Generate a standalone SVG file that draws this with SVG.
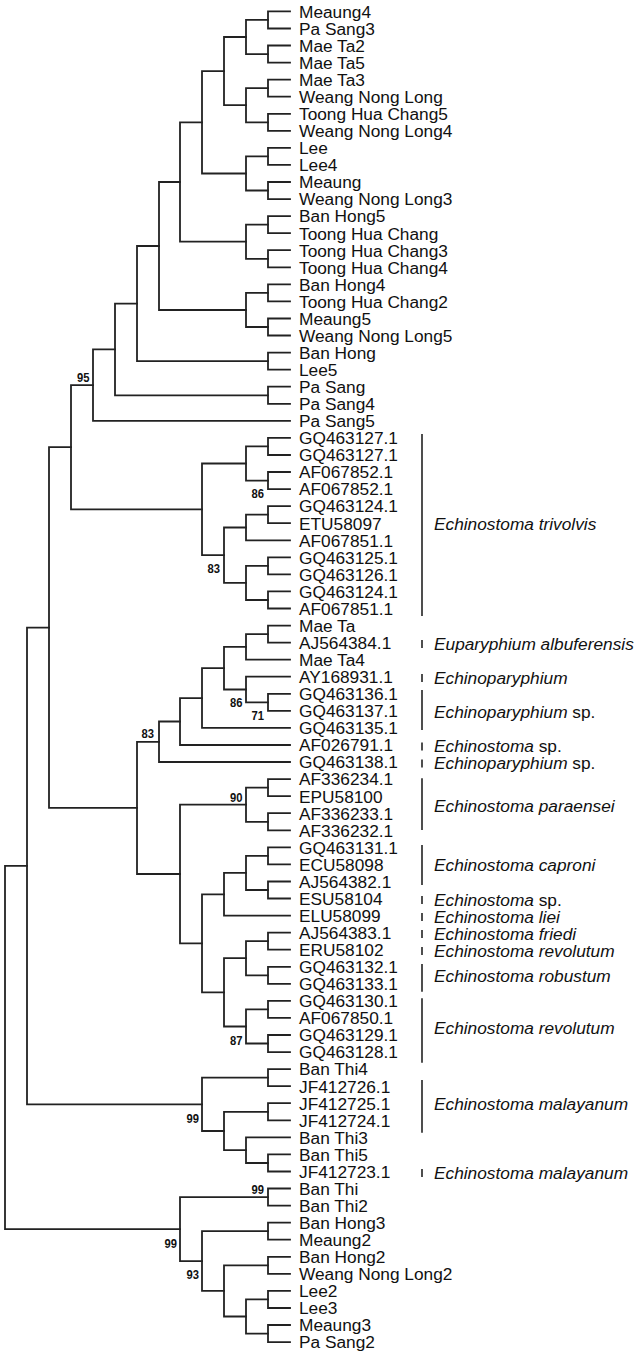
<svg xmlns="http://www.w3.org/2000/svg" width="641" height="1358" viewBox="0 0 641 1358">
<style>
.lf{font-family:"Liberation Sans",Arial,sans-serif;font-size:17.3px;fill:#111}
.sp{font-family:"Liberation Sans",Arial,sans-serif;font-size:17.3px;fill:#111}
.it{font-style:italic}
.bs{font-family:"Liberation Sans",Arial,sans-serif;font-size:12.5px;font-weight:bold;fill:#111;text-anchor:end}
.br{fill:none;stroke:#222;stroke-width:1.8;stroke-linejoin:miter;stroke-linecap:square}
.bar{stroke:#222;stroke-width:1.6}
</style>
<rect width="641" height="1358" fill="#fff"/>
<g id="connectors" class="br">
<path d="M290 11.4H268V28.5H290"/><path d="M290 45.5H268V62.6H290"/><path d="M290 79.6H268V96.7H290"/><path d="M290 113.8H268V130.8H290"/>
<path d="M290 147.9H268V164.9H290"/><path d="M290 182H268V199.1H290"/><path d="M290 216.1H268V233.2H290"/><path d="M290 250.2H268V267.3H290"/>
<path d="M290 284.4H268V301.4H290"/><path d="M290 318.5H268V335.5H290"/><path d="M290 352.6H268V369.7H290"/><path d="M290 386.7H268V403.8H290"/>
<path d="M290 437.9H268V455H290"/><path d="M290 472H268V489.1H290"/><path d="M290 506.1H268V523.2H290"/><path d="M290 557.3H268V574.4H290"/>
<path d="M290 591.4H268V608.5H290"/><path d="M290 625.6H268V642.6H290"/><path d="M290 693.8H268V710.9H290"/><path d="M290 779.1H268V796.2H290"/>
<path d="M290 813.2H268V830.3H290"/><path d="M290 847.3H268V864.4H290"/><path d="M290 881.5H268V898.5H290"/><path d="M290 932.6H268V949.7H290"/>
<path d="M290 966.8H268V983.8H290"/><path d="M290 1000.9H268V1017.9H290"/><path d="M290 1035H268V1052.1H290"/><path d="M290 1069.1H268V1086.2H290"/>
<path d="M290 1103.2H268V1120.3H290"/><path d="M290 1154.4H268V1171.5H290"/><path d="M290 1188.5H268V1205.6H290"/><path d="M290 1222.7H268V1239.7H290"/>
<path d="M290 1256.8H268V1273.8H290"/><path d="M290 1290.9H268V1308H290"/><path d="M290 1325H268V1342.1H290"/>
<path d="M268 19.9H246V54.1H268"/><path d="M268 88.2H246V122.3H268"/><path d="M268 156.4H246V190.5H268"/><path d="M268 224.7H246V258.8H268"/>
<path d="M268 292.9H246V327H268"/><path d="M268 446.4H246V480.6H268"/><path d="M268 514.7H246V540.3H290"/><path d="M268 565.9H246V600H268"/>
<path d="M268 634.1H246V659.7H290"/><path d="M290 676.7H246V702.3H268"/><path d="M268 787.6H246V821.8H268"/><path d="M268 855.9H246V890H268"/>
<path d="M268 941.2H246V975.3H268"/><path d="M268 1009.4H246V1043.5H268"/><path d="M290 1137.4H246V1163H268"/><path d="M268 1299.4H246V1333.6H268"/>
<path d="M246 37H224V105.2H246"/><path d="M246 527.5H224V582.9H246"/><path d="M246 646.9H224V689.5H246"/><path d="M246 872.9H224V915.6H290"/>
<path d="M246 958.2H224V1026.5H246"/><path d="M268 1111.8H224V1150.2H246"/><path d="M268 1265.3H224V1316.5H246"/>
<path d="M224 71.1H202V173.5H246"/><path d="M246 463.5H202V555.2H224"/><path d="M224 668.2H202V727.9H290"/><path d="M224 894.3H202V992.4H224"/>
<path d="M268 1077.7H202V1131H224"/><path d="M268 1231.2H202V1290.9H224"/>
<path d="M202 122.3H180V241.7H246"/><path d="M202 698.1H180V745H290"/><path d="M246 804.7H180V943.3H202"/><path d="M268 1197.1H180V1261.1H202"/>
<path d="M180 182H159V310H246"/><path d="M180 721.5H159V762H290"/>
<path d="M159 246H137V361.1H268"/><path d="M159 741.8H137V874H180"/>
<path d="M137 303.6H115V395.3H268"/>
<path d="M115 349.4H93V420.8H290"/>
<path d="M93 385.1H71V509.3H202"/>
<path d="M71 447.2H49V807.9H137"/>
<path d="M49 627.6H27V1104.3H202"/>
<path d="M27 865.9H5V1229.1H180"/>
</g>
<g id="bootstrap">
<text class="bs" x="89.5" y="381.5" textLength="12.5" lengthAdjust="spacingAndGlyphs">95</text>
<text class="bs" x="264" y="497.5" textLength="12.5" lengthAdjust="spacingAndGlyphs">86</text>
<text class="bs" x="220" y="572.5" textLength="12.5" lengthAdjust="spacingAndGlyphs">83</text>
<text class="bs" x="242.5" y="707" textLength="12.5" lengthAdjust="spacingAndGlyphs">86</text>
<text class="bs" x="264" y="720" textLength="12.5" lengthAdjust="spacingAndGlyphs">71</text>
<text class="bs" x="154" y="738" textLength="12.5" lengthAdjust="spacingAndGlyphs">83</text>
<text class="bs" x="242.5" y="801.5" textLength="12.5" lengthAdjust="spacingAndGlyphs">90</text>
<text class="bs" x="242.5" y="1045" textLength="12.5" lengthAdjust="spacingAndGlyphs">87</text>
<text class="bs" x="199" y="1123" textLength="12.5" lengthAdjust="spacingAndGlyphs">99</text>
<text class="bs" x="264" y="1194" textLength="12.5" lengthAdjust="spacingAndGlyphs">99</text>
<text class="bs" x="177" y="1248" textLength="12.5" lengthAdjust="spacingAndGlyphs">99</text>
<text class="bs" x="199" y="1279" textLength="12.5" lengthAdjust="spacingAndGlyphs">93</text>
</g>
<g id="leaves" class="lf">
<g id="leaf01"><text x="299" y="17.7">Meaung4</text></g>
<g id="leaf02"><text x="299" y="34.8">Pa Sang3</text></g>
<g id="leaf03"><text x="299" y="51.8">Mae Ta2</text></g>
<g id="leaf04"><text x="299" y="68.9">Mae Ta5</text></g>
<g id="leaf05"><text x="299" y="85.9">Mae Ta3</text></g>
<g id="leaf06"><text x="299" y="103">Weang Nong Long</text></g>
<g id="leaf07"><text x="299" y="120.1">Toong Hua Chang5</text></g>
<g id="leaf08"><text x="299" y="137.1">Weang Nong Long4</text></g>
<g id="leaf09"><text x="299" y="154.2">Lee</text></g>
<g id="leaf10"><text x="299" y="171.2">Lee4</text></g>
<g id="leaf11"><text x="299" y="188.3">Meaung</text></g>
<g id="leaf12"><text x="299" y="205.4">Weang Nong Long3</text></g>
<g id="leaf13"><text x="299" y="222.4">Ban Hong5</text></g>
<g id="leaf14"><text x="299" y="239.5">Toong Hua Chang</text></g>
<g id="leaf15"><text x="299" y="256.5">Toong Hua Chang3</text></g>
<g id="leaf16"><text x="299" y="273.6">Toong Hua Chang4</text></g>
<g id="leaf17"><text x="299" y="290.7">Ban Hong4</text></g>
<g id="leaf18"><text x="299" y="307.7">Toong Hua Chang2</text></g>
<g id="leaf19"><text x="299" y="324.8">Meaung5</text></g>
<g id="leaf20"><text x="299" y="341.8">Weang Nong Long5</text></g>
<g id="leaf21"><text x="299" y="358.9">Ban Hong</text></g>
<g id="leaf22"><text x="299" y="376">Lee5</text></g>
<g id="leaf23"><text x="299" y="393">Pa Sang</text></g>
<g id="leaf24"><text x="299" y="410.1">Pa Sang4</text></g>
<g id="leaf25"><text x="299" y="427.1">Pa Sang5</text></g>
<g id="leaf26"><text x="299" y="444.2">GQ463127.1</text></g>
<g id="leaf27"><text x="299" y="461.3">GQ463127.1</text></g>
<g id="leaf28"><text x="299" y="478.3">AF067852.1</text></g>
<g id="leaf29"><text x="299" y="495.4">AF067852.1</text></g>
<g id="leaf30"><text x="299" y="512.4">GQ463124.1</text></g>
<g id="leaf31"><text x="299" y="529.5">ETU58097</text></g>
<g id="leaf32"><text x="299" y="546.6">AF067851.1</text></g>
<g id="leaf33"><text x="299" y="563.6">GQ463125.1</text></g>
<g id="leaf34"><text x="299" y="580.7">GQ463126.1</text></g>
<g id="leaf35"><text x="299" y="597.7">GQ463124.1</text></g>
<g id="leaf36"><text x="299" y="614.8">AF067851.1</text></g>
<g id="leaf37"><text x="299" y="631.9">Mae Ta</text></g>
<g id="leaf38"><text x="299" y="648.9">AJ564384.1</text></g>
<g id="leaf39"><text x="299" y="666">Mae Ta4</text></g>
<g id="leaf40"><text x="299" y="683">AY168931.1</text></g>
<g id="leaf41"><text x="299" y="700.1">GQ463136.1</text></g>
<g id="leaf42"><text x="299" y="717.2">GQ463137.1</text></g>
<g id="leaf43"><text x="299" y="734.2">GQ463135.1</text></g>
<g id="leaf44"><text x="299" y="751.3">AF026791.1</text></g>
<g id="leaf45"><text x="299" y="768.3">GQ463138.1</text></g>
<g id="leaf46"><text x="299" y="785.4">AF336234.1</text></g>
<g id="leaf47"><text x="299" y="802.5">EPU58100</text></g>
<g id="leaf48"><text x="299" y="819.5">AF336233.1</text></g>
<g id="leaf49"><text x="299" y="836.6">AF336232.1</text></g>
<g id="leaf50"><text x="299" y="853.6">GQ463131.1</text></g>
<g id="leaf51"><text x="299" y="870.7">ECU58098</text></g>
<g id="leaf52"><text x="299" y="887.8">AJ564382.1</text></g>
<g id="leaf53"><text x="299" y="904.8">ESU58104</text></g>
<g id="leaf54"><text x="299" y="921.9">ELU58099</text></g>
<g id="leaf55"><text x="299" y="938.9">AJ564383.1</text></g>
<g id="leaf56"><text x="299" y="956">ERU58102</text></g>
<g id="leaf57"><text x="299" y="973.1">GQ463132.1</text></g>
<g id="leaf58"><text x="299" y="990.1">GQ463133.1</text></g>
<g id="leaf59"><text x="299" y="1007.2">GQ463130.1</text></g>
<g id="leaf60"><text x="299" y="1024.2">AF067850.1</text></g>
<g id="leaf61"><text x="299" y="1041.3">GQ463129.1</text></g>
<g id="leaf62"><text x="299" y="1058.4">GQ463128.1</text></g>
<g id="leaf63"><text x="299" y="1075.4">Ban Thi4</text></g>
<g id="leaf64"><text x="299" y="1092.5">JF412726.1</text></g>
<g id="leaf65"><text x="299" y="1109.5">JF412725.1</text></g>
<g id="leaf66"><text x="299" y="1126.6">JF412724.1</text></g>
<g id="leaf67"><text x="299" y="1143.7">Ban Thi3</text></g>
<g id="leaf68"><text x="299" y="1160.7">Ban Thi5</text></g>
<g id="leaf69"><text x="299" y="1177.8">JF412723.1</text></g>
<g id="leaf70"><text x="299" y="1194.8">Ban Thi</text></g>
<g id="leaf71"><text x="299" y="1211.9">Ban Thi2</text></g>
<g id="leaf72"><text x="299" y="1229">Ban Hong3</text></g>
<g id="leaf73"><text x="299" y="1246">Meaung2</text></g>
<g id="leaf74"><text x="299" y="1263.1">Ban Hong2</text></g>
<g id="leaf75"><text x="299" y="1280.1">Weang Nong Long2</text></g>
<g id="leaf76"><text x="299" y="1297.2">Lee2</text></g>
<g id="leaf77"><text x="299" y="1314.3">Lee3</text></g>
<g id="leaf78"><text x="299" y="1331.3">Meaung3</text></g>
<g id="leaf79"><text x="299" y="1348.4">Pa Sang2</text></g>
</g>
<g id="species" class="sp">
<g id="sp01"><line class="bar" x1="422" y1="434" x2="422" y2="616"/><text class="it" x="434" y="530.2">Echinostoma trivolvis</text></g>
<g id="sp02"><line class="bar" x1="422" y1="640" x2="422" y2="648"/><text class="it" x="434" y="649.6">Euparyphium albuferensis</text></g>
<g id="sp03"><line class="bar" x1="422" y1="674" x2="422" y2="682"/><text class="it" x="434" y="683.7">Echinoparyphium</text></g>
<g id="sp04"><line class="bar" x1="422" y1="690" x2="422" y2="730"/><text x="434" y="717.9"><tspan class="it">Echinoparyphium</tspan> sp.</text></g>
<g id="sp05"><line class="bar" x1="422" y1="742.5" x2="422" y2="750.5"/><text x="434" y="752"><tspan class="it">Echinostoma</tspan> sp.</text></g>
<g id="sp06"><line class="bar" x1="422" y1="759.5" x2="422" y2="767.5"/><text x="434" y="769"><tspan class="it">Echinoparyphium</tspan> sp.</text></g>
<g id="sp07"><line class="bar" x1="422" y1="778.3" x2="422" y2="830"/><text class="it" x="434" y="811.7">Echinostoma paraensei</text></g>
<g id="sp08"><line class="bar" x1="422" y1="845" x2="422" y2="885"/><text class="it" x="434" y="871.4">Echinostoma caproni</text></g>
<g id="sp09"><line class="bar" x1="422" y1="896" x2="422" y2="904"/><text x="434" y="905.5"><tspan class="it">Echinostoma</tspan> sp.</text></g>
<g id="sp10"><line class="bar" x1="422" y1="913" x2="422" y2="921"/><text class="it" x="434" y="922.6">Echinostoma liei</text></g>
<g id="sp11"><line class="bar" x1="422" y1="930" x2="422" y2="938"/><text class="it" x="434" y="939.6">Echinostoma friedi</text></g>
<g id="sp12"><line class="bar" x1="422" y1="947" x2="422" y2="955"/><text class="it" x="434" y="956.7">Echinostoma revolutum</text></g>
<g id="sp13"><line class="bar" x1="422" y1="964" x2="422" y2="991.7"/><text class="it" x="434" y="982.3">Echinostoma robustum</text></g>
<g id="sp14"><line class="bar" x1="422" y1="998.3" x2="422" y2="1062.7"/><text class="it" x="434" y="1033.5">Echinostoma revolutum</text></g>
<g id="sp15"><line class="bar" x1="422" y1="1080" x2="422" y2="1132.7"/><text class="it" x="434" y="1110.2">Echinostoma malayanum</text></g>
<g id="sp16"><line class="bar" x1="422" y1="1169" x2="422" y2="1177"/><text class="it" x="434" y="1178.5">Echinostoma malayanum</text></g>
</g>
</svg>
